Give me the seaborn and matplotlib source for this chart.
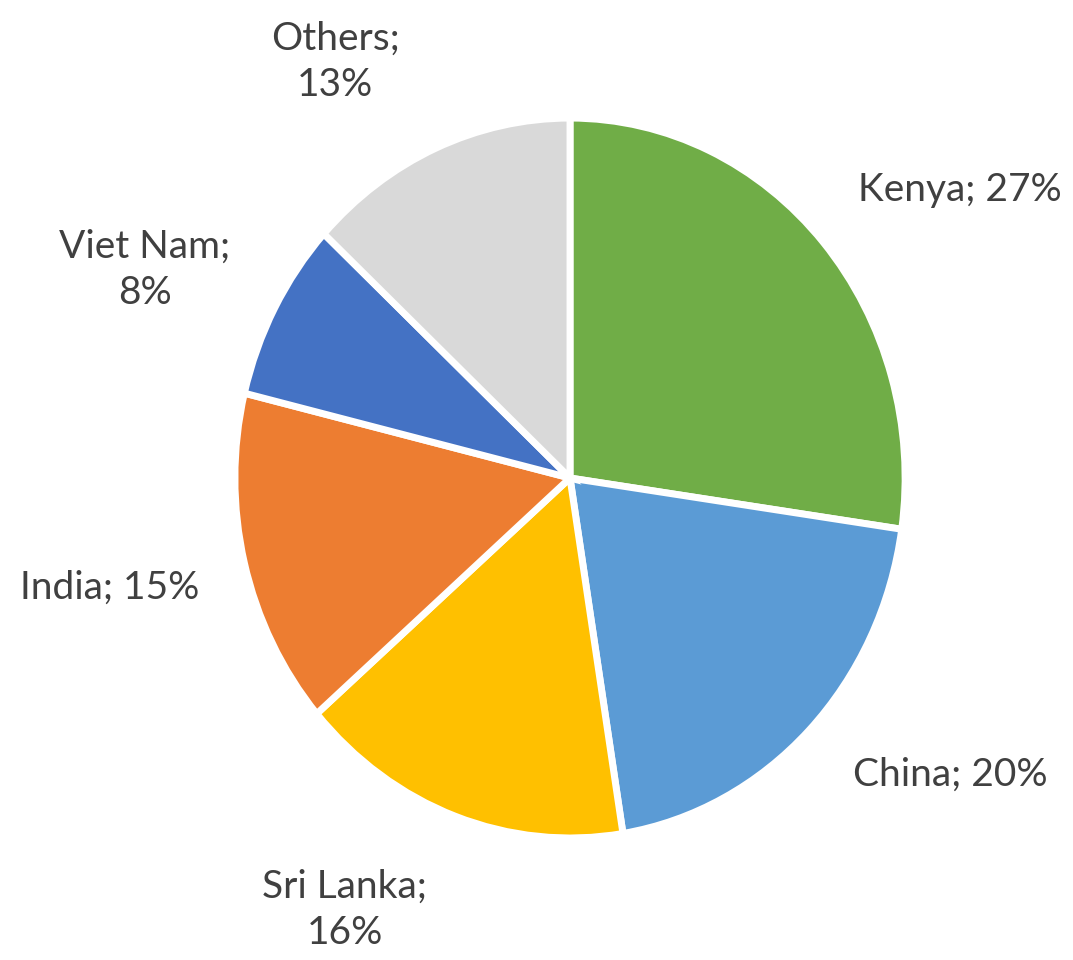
import matplotlib
matplotlib.use("Agg")
import matplotlib.pyplot as plt
import seaborn as sns

# Dados do gráfico (sentido horário a partir das 12h)
countries = ["Kenya", "China", "Sri Lanka", "India", "Viet Nam", "Others"]
shares = [27, 20, 16, 15, 8, 13]
label_texts = ["Kenya; 27%", "China; 20%", "Sri Lanka;\n16%", "India; 15%", "Viet Nam;\n8%", "Others;\n13%"]

sns.set_theme(style="white")
plt.rcParams["font.family"] = ["Lato", "DejaVu Sans"]

colors = ["#70AD47", "#5B9BD5", "#FFC000", "#ED7D31", "#4472C4", "#D9D9D9"]

fig = plt.figure(figsize=(10.73, 9.6), dpi=100)
ax = fig.add_axes([0, 0, 1, 1])

ax.pie(shares, colors=colors, startangle=90, counterclock=False,
       wedgeprops=dict(edgecolor="white", linewidth=5))

# Eixos esticados como no original (pizza levemente achatada na horizontal)
ax.set_aspect("auto")
ax.set_xlim(-1.701, 1.501)
ax.set_ylim(-1.339, 1.328)
ax.axis("off")

# Posição dos rótulos (layout)
label_pos = [(1.164, 0.80), (1.134, -0.825), (-0.672, -1.2),
             (-1.373, -0.306), (-1.269, 0.578), (-0.701, 1.156)]
for txt, (x, y) in zip(label_texts, label_pos):
    ax.text(x, y, txt, ha="center", va="center", fontsize=28,
            color="#404040", linespacing=1.35)

fig.savefig("out.png", dpi=100, facecolor="white")
